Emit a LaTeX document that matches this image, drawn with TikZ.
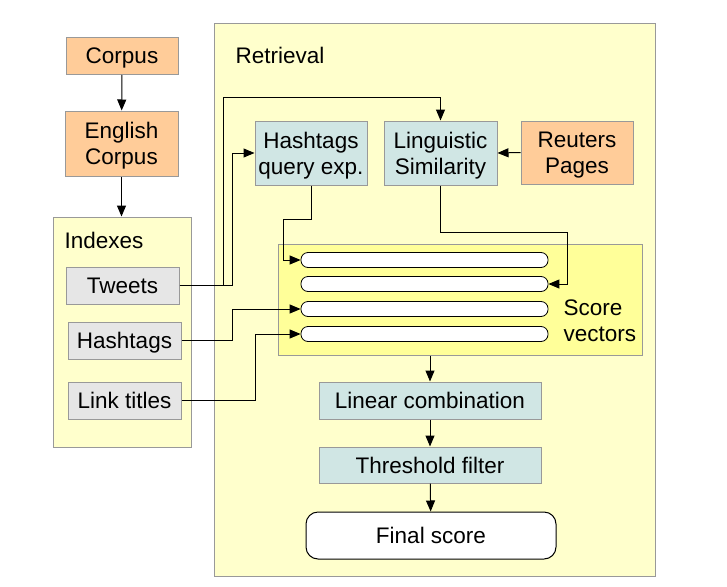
\documentclass[tikz,border=0pt]{standalone}
\usepackage{fontspec}
\setmainfont{Liberation Sans}
\usepackage{tikz}
\definecolor{boxOrange}{HTML}{FFCC99}
\definecolor{boxTeal}{HTML}{D0E6E4}
\definecolor{boxGray}{HTML}{E6E6E6}
\definecolor{panelYellow}{HTML}{FFFFCC}
\definecolor{vecYellow}{HTML}{FFFF99}
\definecolor{edgeGray}{HTML}{999999}
\usetikzlibrary{arrows.meta}
\usetikzlibrary{backgrounds}

\tikzset{
  panel/.style={draw=edgeGray, line width=1pt, fill=panelYellow, rectangle, inner sep=0pt},
  corpusbox/.style={draw=edgeGray, line width=1pt, fill=boxOrange, align=center, inner sep=0pt, text depth=0pt},
  indexbox/.style={draw=edgeGray, line width=1pt, fill=boxGray, align=center, inner sep=0pt, text depth=0pt, minimum width=113pt, minimum height=37pt},
  procbox/.style={draw=edgeGray, line width=1pt, fill=boxTeal, align=center, inner sep=0pt, text depth=0pt},
  vecbar/.style={draw=black, line width=0.8pt, fill=white, rounded corners=7pt, inner sep=0pt, minimum width=247pt, minimum height=15pt},
  flow/.style={draw=black, line width=1pt, -{Triangle[length=11pt,width=9pt]}},
}

\begin{document}
\begin{tikzpicture}[x=1pt, y=-1pt, font=\fontsize{22.5}{26}\selectfont]
  \useasboundingbox[fill=white] (0,0) rectangle (727,586);

  % panels
  \node[panel, minimum width=441pt, minimum height=552pt] (retrieval) at (434.5,300) {};
  \node[anchor=west] (retrievallabel) at (232,55) {Retrieval};
  \node[panel, minimum width=138pt, minimum height=230pt] (idxpanel) at (122,332) {};
  \node[anchor=west] (idxlabel) at (61,240) {Indexes};
  \node[panel, fill=vecYellow, minimum width=364pt, minimum height=111pt] (scorepanel) at (460,299.5) {};

  % sources
  \node[corpusbox, minimum width=112pt, minimum height=37pt] (corpus) at (122,56) {Corpus};
  \node[corpusbox, minimum width=113pt, minimum height=65pt] (english) at (121.5,143.5) {English\\Corpus};
  \node[corpusbox, minimum width=112pt, minimum height=63pt] (reuters) at (577,152.5) {Reuters\\Pages};

  % indexes
  \node[indexbox] (tweets) at (122.5,285.5) {Tweets};
  \node[indexbox] (hashidx) at (124.5,340.5) {Hashtags};
  \node[indexbox] (links) at (124.5,400.5) {Link titles};

  % processing
  \node[procbox, minimum width=112pt, minimum height=64pt] (hqexp) at (311,153) {Hashtags\\query exp.};
  \node[procbox, minimum width=113pt, minimum height=64pt] (ling) at (440.5,153) {Linguistic\\Similarity};

  % score vectors
  \node[vecbar] (bar1) at (424.5,260) {};
  \node[vecbar] (bar2) at (424.5,284) {};
  \node[vecbar] (bar3) at (424.5,309) {};
  \node[vecbar] (bar4) at (424.5,334) {};
  \node[anchor=west, align=left] (scorelabel) at (560,321) {Score\\vectors};

  \node[procbox, minimum width=222pt, minimum height=37pt] (lincomb) at (430,400.5) {Linear combination};
  \node[procbox, minimum width=222pt, minimum height=36pt] (thresh) at (430,465) {Threshold filter};
  \node[draw=black, line width=1pt, fill=white, rounded corners=12pt, text depth=0pt, minimum width=250pt, minimum height=47pt] (final) at (431,535.5) {Final score};

  % connectors
  \draw[flow] (corpus) -- (english);
  \draw[flow] (english.south) -- (english.south |- idxpanel.north);
  \draw[flow] (tweets.east) -| (223,97) -| (ling.north);
  \draw[flow] (tweets.east) -| (232,153) -- (hqexp.west);
  \draw[flow] (reuters.west) -- (ling.east);
  \draw[flow] (hqexp.south) |- (283,219) |- (bar1.west);
  \draw[flow] (ling.south) |- (567,232) |- (bar2.east);
  \draw[flow] (hashidx.east) -| (232,309) -- (bar3.west);
  \draw[flow] (links.east) -| (255,334) -- (bar4.west);
  \draw[flow] (lincomb.north |- scorepanel.south) -- (lincomb.north);
  \draw[flow] (lincomb) -- (thresh);
  \draw[flow] (thresh) -- (final);
\end{tikzpicture}
\end{document}
